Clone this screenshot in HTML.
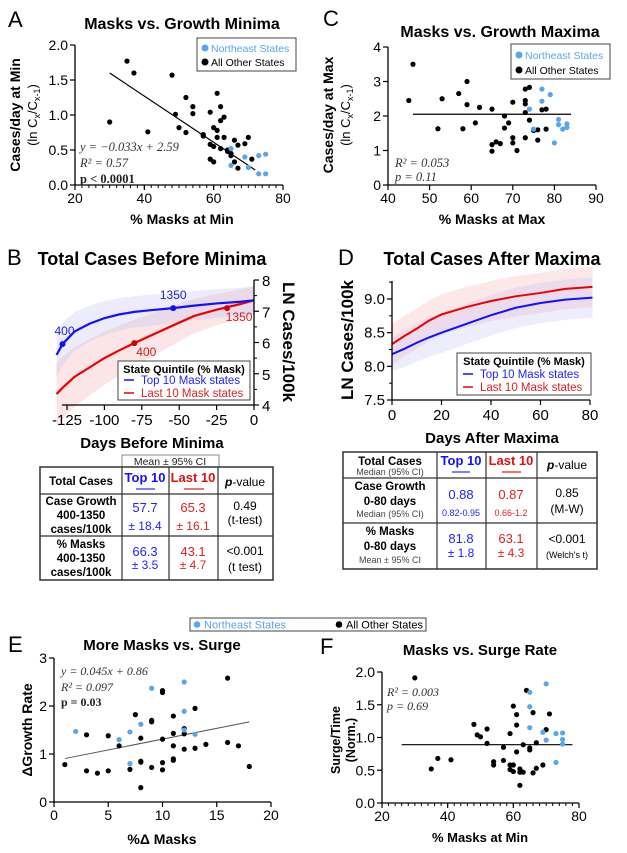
<!DOCTYPE html>
<html><head><meta charset="utf-8"><style>
html,body{margin:0;padding:0;background:#fff;}
svg{display:block;font-family:"Liberation Sans",Arial,sans-serif;}
</style></head><body>
<svg id="fig" width="627" height="853" viewBox="0 0 627 853"></svg>
<script>
// ---------- DATA ----------
const aBlackX=[30,35,37,41,48,49,50,52,52,54,54,57,57,59,59,59,60,60,60,61,61,61,62,62,62,63,63,64,65,65,66,66,67,67,69,70,71,64];
const aBlackY=[0.9,1.77,1.6,0.76,1.57,1.01,0.82,1.25,0.75,1.12,1.02,0.72,0.7,1.04,0.58,0.37,0.82,0.55,0.33,1.31,0.78,0.68,1.12,0.92,0.52,0.97,0.68,0.5,0.45,0.42,0.64,0.33,0.57,0.24,0.59,0.68,0.37,0.48];
const aBlueX=[65,65,69,70,73,73,75,75];
const aBlueY=[0.52,0.28,0.4,0.25,0.42,0.16,0.44,0.16];
const aFit=[-0.033,2.59];
const cBlackX=[45,46,52,53,57,58,59,59,61,62,65,65,65,66,67,68,68,69,70,70,70,71,73,73,73,73,73,74,74,75,76,76,77,78,78];
const cBlackY=[2.45,3.5,1.63,2.5,2.65,1.63,3.0,2.33,1.8,2.25,2.2,1.17,0.98,1.25,1.2,2.0,1.65,1.8,2.4,1.37,1.22,1.0,2.78,2.45,2.35,2.1,1.37,2.83,1.88,1.58,1.6,1.3,2.18,2.2,1.62];
const cBlueX=[74,75,77,77,79,80,81,81,82,83,83];
const cBlueY=[2.2,1.62,2.78,2.43,2.62,1.22,1.9,1.75,1.62,1.77,1.67];
const cMean=[2.05];
const eBlackX=[1,3,3,4,5,5,6,7,7.5,8,8,8,8,9,9,9,10,10,10,10,10,11,11,11,11,11,12,12,12,13,13,14,16,16,17,18];
const eBlackY=[0.78,1.4,0.65,0.6,1.38,0.65,1.17,0.68,1.82,1.33,0.85,0.83,0.3,1.7,1.67,0.72,2.32,2.28,1.31,0.82,0.67,1.79,1.43,1.17,0.9,0.87,1.53,1.42,1.1,1.95,1.12,1.2,2.58,1.24,1.17,0.74];
const eBlueX=[2,6,7,7,8,9,12,12,12,13];
const eBlueY=[1.47,1.3,1.46,0.8,1.62,2.37,2.5,1.89,1.5,1.41];
const eFit=[0.045,0.86];
const fBlackX=[30,35,37,41,48,49,50,52,52,54,54,57,57,59,59,59,60,60,60,61,61,61,62,62,62,63,63,64,65,65,66,66,67,67,69,70,71];
const fBlackY=[1.91,0.52,0.68,0.66,1.2,1.04,1.01,1.13,0.91,0.63,0.58,0.85,0.65,1.06,0.58,0.51,1.48,0.58,0.48,1.35,1.19,0.78,0.52,0.47,0.27,0.89,0.47,1.72,0.84,0.81,1.38,0.46,0.92,0.53,0.58,1.12,1.36];
const fBlueX=[65,65,65,69,70,70,73,73,75,75,75];
const fBlueY=[1.69,1.47,1.15,1.08,1.82,0.96,1.06,0.62,1.07,0.97,0.9];
const fMean=[0.89];
const bDays=[-132,-128,-120,-110,-100,-90,-80,-70,-54,-40,-25,-10,0];
const bTop=[5.6,5.95,6.35,6.6,6.78,6.9,6.98,7.03,7.1,7.18,7.25,7.3,7.35];
const bLast=[4.35,4.55,4.9,5.2,5.5,5.75,5.98,6.2,6.55,6.85,7.05,7.22,7.35];
const bTopErr=[0.7,0.68,0.62,0.58,0.55,0.52,0.5,0.5,0.48,0.47,0.46,0.45,0.45];
const bLastErr=[1.0,1.0,0.95,0.9,0.85,0.8,0.75,0.7,0.62,0.55,0.5,0.47,0.45];
const bTopMarks=[[-128,5.95,'400'],[-54,7.1,'1350']];
const bLastMarks=[[-80,5.98,'400'],[-18,7.1,'1350']];
const dDays=[0,5,10,15,20,30,40,50,60,70,81];
const dTop=[8.18,8.26,8.35,8.43,8.5,8.63,8.76,8.87,8.94,8.99,9.02];
const dLast=[8.33,8.45,8.56,8.68,8.77,8.88,8.97,9.04,9.09,9.15,9.18];
const dTopErr=[0.25,0.27,0.28,0.29,0.3,0.3,0.3,0.3,0.3,0.3,0.3];
const dLastErr=[0.3,0.3,0.3,0.3,0.3,0.3,0.3,0.3,0.3,0.3,0.3];

const NS='http://www.w3.org/2000/svg';
const svg=document.getElementById('fig');
const BLUE='#5aa5ec', BLK='#000';
function mk(tag,attrs,parent,text){const e=document.createElementNS(NS,tag);for(const k in attrs)e.setAttribute(k,attrs[k]);if(text!=null)e.textContent=text;(parent||svg).appendChild(e);return e;}
function lin(d0,d1,r0,r1){return v=>r0+(v-d0)*(r1-r0)/(d1-d0);}
function txt(x,y,s,size,opts,name){opts=opts||{};const t=mk('text',Object.assign({x:x,y:y,'font-size':size,'text-anchor':opts.a||'middle',fill:opts.c||'#000'},opts.weight?{'font-weight':opts.weight}:{},opts.family?{'font-family':opts.family}:{},opts.style?{'font-style':opts.style}:{},opts.tr?{transform:opts.tr}:{}),opts.p||svg,s);
 
 
 return t;}
function line(x1,y1,x2,y2,w,c,name){const l=mk('line',{x1:x1,y1:y1,x2:x2,y2:y2,stroke:c||'#000','stroke-width':w||1});
 
 
 return l;}
function dots(xs,ys,sx,sy,color,name){const g=mk('g',{});
 
 
 for(let i=0;i<xs.length;i++){const c=mk('circle',{cx:sx(xs[i]),cy:sy(ys[i]),r:2.6,fill:color},g);
  
  }}
function axesXY(x0,y0,x1,y1,sx,sy,xt,yt,xlabs,ylabs,xminor,yminor,pre){
 line(x0,y1,x0,y0,1.3,'#000',pre+'-y-axis');line(x0,y0,x1,y0,1.3,'#000',pre+'-x-axis');
 xt.forEach((v,i)=>{line(sx(v),y0,sx(v),y0+5,1.2);txt(sx(v),y0+18,xlabs[i],14,{},pre+'-x-tick-label');});
 yt.forEach((v,i)=>{line(x0-5,sy(v),x0,sy(v),1.2);txt(x0-7,sy(v)+5,ylabs[i],14,{a:'end'},pre+'-y-tick-label');});
 (xminor||[]).forEach(v=>line(sx(v),y0,sx(v),y0+3,1));
 (yminor||[]).forEach(v=>line(x0-3,sy(v),x0,sy(v),1));}
function legendBox(x,y,w,h,name){const r=mk('rect',{x:x,y:y,width:w,height:h,fill:'#fff',stroke:'#444','stroke-width':1});
 
 
 return r;}
function range(a,b,s){const r=[];for(let v=a;v<=b+1e-9;v+=s)r.push(+v.toFixed(3));return r;}

// ---------- PANEL A ----------
txt(8,27,'A',22,{a:'start'},'panel-label-a');
txt(182,29,'Masks vs. Growth Minima',16,{weight:'bold'},'panel-a-title');
{const sx=lin(20,80,75,283),sy=lin(0,2,185,45);
 axesXY(75,185,283,45,sx,sy,[20,40,60,80],[0,0.5,1,1.5,2],['20','40','60','80'],['0.0','0.5','1.0','1.5','2.0'],range(22,78,2),null,'a');
 line(sx(30),sy(aFit[0]*30+aFit[1]),sx(72),sy(aFit[0]*72+aFit[1]),1.2,'#000','a-fit-line');
 dots(aBlackX,aBlackY,sx,sy,BLK,'a-other-states');dots(aBlueX,aBlueY,sx,sy,BLUE,'a-northeast-states');
 txt(80,151,'y = −0.033x + 2.59',12.5,{a:'start',family:'Liberation Serif',style:'italic',c:'#333'},'a-equation');
 txt(80,167,'R² = 0.57',12.5,{a:'start',family:'Liberation Serif',style:'italic',c:'#333'},'a-r2');
 txt(80,183,'p < 0.0001',12.5,{a:'start',family:'Liberation Serif',weight:'bold',c:'#222'},'a-pvalue');
 legendBox(197,38,99,33,'a-legend');
 mk('circle',{cx:205,cy:48,r:3.5,fill:BLUE});txt(211,52,'Northeast States',10.5,{a:'start',c:BLUE},'a-legend-northeast');
 mk('circle',{cx:205,cy:62,r:3.5,fill:BLK});txt(211,66,'All Other States',10.5,{a:'start'},'a-legend-other');
 txt(182,224,'% Masks at Min',14,{weight:'bold'},'a-x-axis-title');
 txt(20,115,'Cases/day at Min',14,{weight:'bold',tr:'rotate(-90 20 115)'},'a-y-axis-title');
 const g2=txt(37,115,'',13,{tr:'rotate(-90 37 115)'},'a-y-axis-subtitle');
 g2.innerHTML='(ln C<tspan font-size="9" dy="3">x</tspan><tspan dy="-3">/C</tspan><tspan font-size="9" dy="3">x-1</tspan><tspan dy="-3">)</tspan>';
}
// ---------- PANEL C ----------
txt(323,26,'C',22,{a:'start'},'panel-label-c');
txt(500,37,'Masks vs. Growth Maxima',16,{weight:'bold'},'panel-c-title');
{const sx=lin(40,90,388,596),sy=lin(0,4,185,47);
 axesXY(388,185,596,47,sx,sy,[40,50,60,70,80,90],[0,1,2,3,4],['40','50','60','70','80','90'],['0','1','2','3','4'],null,null,'c');
 line(sx(46),sy(cMean[0]),sx(84),sy(cMean[0]),1.2,'#000','c-mean-line');
 dots(cBlackX,cBlackY,sx,sy,BLK,'c-other-states');dots(cBlueX,cBlueY,sx,sy,BLUE,'c-northeast-states');
 txt(395,167,'R² = 0.053',12.5,{a:'start',family:'Liberation Serif',style:'italic',c:'#333'},'c-r2');
 txt(395,181,'p = 0.11',12.5,{a:'start',family:'Liberation Serif',style:'italic',c:'#333'},'c-pvalue');
 legendBox(511,44,99,35,'c-legend');
 mk('circle',{cx:519,cy:55,r:3.5,fill:BLUE});txt(525,59,'Northeast States',10.5,{a:'start',c:BLUE},'c-legend-northeast');
 mk('circle',{cx:519,cy:70,r:3.5,fill:BLK});txt(525,74,'All Other States',10.5,{a:'start'},'c-legend-other');
 txt(492,224,'% Masks at Max',14,{weight:'bold'},'c-x-axis-title');
 txt(333,115,'Cases/day at Max',14,{weight:'bold',tr:'rotate(-90 333 115)'},'c-y-axis-title');
 const g2=txt(350,115,'',13,{tr:'rotate(-90 350 115)'},'c-y-axis-subtitle');
 g2.innerHTML='(ln C<tspan font-size="9" dy="3">x</tspan><tspan dy="-3">/C</tspan><tspan font-size="9" dy="3">x-1</tspan><tspan dy="-3">)</tspan>';
}
// ---------- PANEL B ----------
txt(7,265,'B',22,{a:'start'},'panel-label-b');
txt(152,265,'Total Cases Before Minima',18,{weight:'bold'},'panel-b-title');
{const sx=lin(-125,0,67,254),sy=lin(4,8,405,280);
 function band(xs,ys,er,color,name){let pts=xs.map((d,i)=>sx(d)+','+sy(ys[i]+er[i]));pts=pts.concat(xs.map((d,i)=>sx(d)+','+sy(ys[i]-er[i])).reverse());
  const p=mk('polygon',{points:pts.join(' '),fill:color,opacity:0.3});
  
  }
 function curve(xs,ys,color,name){const p=mk('polyline',{points:xs.map((d,i)=>sx(d)+','+sy(ys[i])).join(' '),fill:'none',stroke:color,'stroke-width':2.2});
  
  }
 band(bDays,bLast,bLastErr,'#f3a8b0','b-last10-ci-band');band(bDays,bTop,bTopErr,'#c0c0f0','b-top10-ci-band');
 curve(bDays,bLast,'#e00','b-last10-line');curve(bDays,bTop,'#11f','b-top10-line');
 bTopMarks.forEach(m=>{mk('circle',{cx:sx(m[0]),cy:sy(m[1]),r:3,fill:'#11f'});txt(sx(m[0])+(m[2]=='400'?2:0),sy(m[1])-9,m[2],12,{c:'#22c'},'b-top10-marker-label');});
 bLastMarks.forEach(m=>{mk('circle',{cx:sx(m[0]),cy:sy(m[1]),r:3,fill:'#c00'});txt(sx(m[0])+12,sy(m[1])+13,m[2],12,{c:'#c22'},'b-last10-marker-label');});
 line(62,405,254,405,1.3,'#000','b-x-axis');line(254,280,254,405,1.3,'#000','b-y-axis');
 [-125,-100,-75,-50,-25,0].forEach(v=>{line(sx(v),405,sx(v),410,1.2);txt(sx(v),425,v==0?'0':String(v),15,{},'b-x-tick-label');});
 [4,5,6,7,8].forEach(v=>{line(254,sy(v),259,sy(v),1.2);txt(262,sy(v)+6,String(v),15,{a:'start'},'b-y-tick-label');});
 [4.5,5.5,6.5,7.5].forEach(v=>line(254,sy(v),257,sy(v),1));
 txt(152,448,'Days Before Minima',15,{weight:'bold'},'b-x-axis-title');
 txt(283,342,'LN Cases/100k',17,{weight:'bold',tr:'rotate(90 283 342)'},'b-y-axis-title');
 legendBox(118,361,132,39,'b-legend');
 txt(184,373,'State Quintile (% Mask)',11,{weight:'bold'},'b-legend-title');
 line(124,380,134,380,1.5,'#11f');txt(141,384,'Top 10 Mask states',11.5,{a:'start',c:'#22f'},'b-legend-top10');
 line(124,393,134,393,1.5,'#e00');txt(141,397,'Last 10 Mask states',11.5,{a:'start',c:'#d22'},'b-legend-last10');
}
// ---------- PANEL D ----------
txt(338,265,'D',22,{a:'start'},'panel-label-d');
txt(492,265,'Total Cases After Maxima',18,{weight:'bold'},'panel-d-title');
{const sx=lin(0,80,392,590),sy=lin(7.5,9,400,299);
 function band(xs,ys,er,color,name){let pts=xs.map((d,i)=>sx(d)+','+sy(ys[i]+er[i]));pts=pts.concat(xs.map((d,i)=>sx(d)+','+sy(ys[i]-er[i])).reverse());
  const p=mk('polygon',{points:pts.join(' '),fill:color,opacity:0.28});
  
  }
 function curve(xs,ys,color,name){const p=mk('polyline',{points:xs.map((d,i)=>sx(d)+','+sy(ys[i])).join(' '),fill:'none',stroke:color,'stroke-width':2});
  
  }
 band(dDays,dLast,dLastErr,'#f3a8b0','d-last10-ci-band');band(dDays,dTop,dTopErr,'#c0c0f0','d-top10-ci-band');
 curve(dDays,dLast,'#e00','d-last10-line');curve(dDays,dTop,'#11f','d-top10-line');
 line(392,281,392,400,1.3,'#000','d-y-axis');line(392,400,590,400,1.3,'#000','d-x-axis');
 [0,20,40,60,80].forEach(v=>{line(sx(v),400,sx(v),405,1.2);txt(sx(v),420,String(v),15,{},'d-x-tick-label');});
 [7.5,8,8.5,9].forEach(v=>{line(387,sy(v),392,sy(v),1.2);txt(385,sy(v)+5,v.toFixed(1),15,{a:'end'},'d-y-tick-label');});
 [7.75,8.25,8.75,9.25].forEach(v=>line(389,sy(v),392,sy(v),1));
 txt(492,443,'Days After Maxima',15,{weight:'bold'},'d-x-axis-title');
 txt(353,340,'LN Cases/100k',17,{weight:'bold',tr:'rotate(-90 353 340)'},'d-y-axis-title');
 legendBox(457,353,134,42,'d-legend');
 txt(524,365,'State Quintile (% Mask)',11,{weight:'bold'},'d-legend-title');
 line(463,374,473,374,1.5,'#11f');txt(480,378,'Top 10 Mask states',11.5,{a:'start',c:'#22f'},'d-legend-top10');
 line(463,387,473,387,1.5,'#e00');txt(480,391,'Last 10 Mask states',11.5,{a:'start',c:'#d22'},'d-legend-last10');
}
// ---------- TABLE B ----------
{const g=mk('g',{});
 
 
 mk('rect',{x:122,y:455,width:97,height:12,fill:'none',stroke:'#888','stroke-width':1},g);
 txt(170,465,'Mean ± 95% CI',10.5,{c:'#222'},'table-b-header-note');
 mk('rect',{x:40,y:467,width:233,height:113,fill:'none',stroke:'#333','stroke-width':1.5},g);
 [122,169,218].forEach(x=>mk('line',{x1:x,y1:467,x2:x,y2:580,stroke:'#333','stroke-width':1.2},g));
 [494,536].forEach(y=>mk('line',{x1:40,y1:y,x2:273,y2:y,stroke:'#333','stroke-width':1.2},g));
 txt(81,485,'Total Cases',11.5,{weight:'bold'},'table-b-col-header');
 txt(145,482,'Top 10',13,{weight:'bold',c:'#11f'},'table-b-top10-header');line(136,489,155,489,1.5,'#55f');
 txt(193,482,'Last 10',13,{weight:'bold',c:'#d11'},'table-b-last10-header');line(184,489,204,489,1.5,'#e44');
 const pv=txt(245,486,'',12,{},'table-b-pvalue-header');pv.innerHTML='<tspan font-style="italic" font-weight="bold">p</tspan>-value';
 ['Case Growth','400-1350','cases/100k'].forEach((s,i)=>txt(81,505+i*14,s,11.5,{weight:'bold'},'table-b-row-label'));
 txt(145,512,'57.7',13,{c:'#22f'},'table-b-cell');txt(145,530,'± 18.4',12,{c:'#22f'},'table-b-cell');
 txt(193,512,'65.3',13,{c:'#d22'},'table-b-cell');txt(193,530,'± 16.1',12,{c:'#d22'},'table-b-cell');
 txt(245,510,'0.49',12,{},'table-b-cell');txt(245,524,'(t-test)',12,{},'table-b-cell');
 ['% Masks','400-1350','cases/100k'].forEach((s,i)=>txt(81,548+i*14,s,11.5,{weight:'bold'},'table-b-row-label'));
 txt(145,556,'66.3',13,{c:'#22f'},'table-b-cell');txt(145,569,'± 3.5',12,{c:'#22f'},'table-b-cell');
 txt(193,556,'43.1',13,{c:'#d22'},'table-b-cell');txt(193,569,'± 4.7',12,{c:'#d22'},'table-b-cell');
 txt(245,555,'<0.001',12,{},'table-b-cell');txt(245,571,'(t test)',12,{},'table-b-cell');
}
// ---------- TABLE D ----------
{const g=mk('g',{});
 
 
 mk('rect',{x:343,y:452,width:254,height:117,fill:'none',stroke:'#333','stroke-width':1.5},g);
 [437,486,537].forEach(x=>mk('line',{x1:x,y1:452,x2:x,y2:569,stroke:'#333','stroke-width':1.2},g));
 [478,523].forEach(y=>mk('line',{x1:343,y1:y,x2:597,y2:y,stroke:'#333','stroke-width':1.2},g));
 txt(390,465,'Total Cases',11.5,{weight:'bold'},'table-d-col-header');txt(390,475,'Median (95% CI)',9,{c:'#444'},'table-d-col-note');
 txt(461,465,'Top 10',13,{weight:'bold',c:'#11f'},'table-d-top10-header');line(452,472,470,472,1.5,'#55f');
 txt(511,465,'Last 10',13,{weight:'bold',c:'#d11'},'table-d-last10-header');line(502,472,521,472,1.5,'#e44');
 const pv=txt(567,469,'',12,{},'table-d-pvalue-header');pv.innerHTML='<tspan font-style="italic" font-weight="bold">p</tspan>-value';
 txt(390,490,'Case Growth',11.5,{weight:'bold'},'table-d-row-label');txt(390,505,'0-80 days',11.5,{weight:'bold'},'table-d-row-label');txt(390,517,'Median (95% CI)',9,{c:'#444'},'table-d-row-note');
 txt(461,499,'0.88',13,{c:'#22f'},'table-d-cell');txt(461,516,'0.82-0.95',9,{c:'#22f'},'table-d-cell');
 txt(511,499,'0.87',13,{c:'#d22'},'table-d-cell');txt(511,516,'0.66-1.2',9,{c:'#d22'},'table-d-cell');
 txt(567,497,'0.85',12,{},'table-d-cell');txt(567,513,'(M-W)',12,{},'table-d-cell');
 txt(390,535,'% Masks',11.5,{weight:'bold'},'table-d-row-label');txt(390,550,'0-80 days',11.5,{weight:'bold'},'table-d-row-label');txt(390,563,'Mean ± 95% CI',9,{c:'#444'},'table-d-row-note');
 txt(461,543,'81.8',13,{c:'#22f'},'table-d-cell');txt(461,557,'± 1.8',12,{c:'#22f'},'table-d-cell');
 txt(511,543,'63.1',13,{c:'#d22'},'table-d-cell');txt(511,557,'± 4.3',12,{c:'#d22'},'table-d-cell');
 txt(567,543,'<0.001',12,{},'table-d-cell');txt(567,558,"(Welch's t)",9,{},'table-d-cell');
}
// ---------- SHARED LEGEND E/F ----------
legendBox(190,618,236,13,'ef-legend');
mk('circle',{cx:197,cy:624.5,r:3.3,fill:BLUE});txt(204,628.5,'Northeast States',11,{a:'start',c:BLUE},'ef-legend-northeast');
mk('circle',{cx:339,cy:624.5,r:3.3,fill:BLK});txt(346,628.5,'All Other States',11,{a:'start'},'ef-legend-other');
// ---------- PANEL E ----------
txt(8,652,'E',22,{a:'start'},'panel-label-e');
txt(162,650,'More Masks vs. Surge',15,{weight:'bold'},'panel-e-title');
{const sx=lin(0,20,54,271),sy=lin(0,3,802,658);
 axesXY(54,802,271,658,sx,sy,[0,5,10,15,20],[0,1,2,3],['0','5','10','15','20'],['0','1','2','3'],null,null,'e');
 line(sx(1),sy(eFit[0]*1+eFit[1]),sx(18),sy(eFit[0]*18+eFit[1]),1,'#555','e-fit-line');
 dots(eBlackX,eBlackY,sx,sy,BLK,'e-other-states');dots(eBlueX,eBlueY,sx,sy,BLUE,'e-northeast-states');
 txt(61,675,'y = 0.045x + 0.86',12,{a:'start',family:'Liberation Serif',style:'italic',c:'#333'},'e-equation');
 txt(61,691,'R² = 0.097',12,{a:'start',family:'Liberation Serif',style:'italic',c:'#333'},'e-r2');
 txt(61,706,'p = 0.03',12,{a:'start',family:'Liberation Serif',weight:'bold',c:'#222'},'e-pvalue');
 txt(162,844,'%Δ Masks',14,{weight:'bold'},'e-x-axis-title');
 txt(32,730,'ΔGrowth Rate',14,{weight:'bold',tr:'rotate(-90 32 730)'},'e-y-axis-title');
}
// ---------- PANEL F ----------
txt(320,654,'F',22,{a:'start'},'panel-label-f');
txt(480,655,'Masks vs. Surge Rate',15,{weight:'bold'},'panel-f-title');
{const sx=lin(20,80,382,579),sy=lin(0,2,803,672);
 axesXY(382,803,579,672,sx,sy,[20,40,60,80],[0,0.5,1,1.5,2],['20','40','60','80'],['0.0','0.5','1.0','1.5','2.0'],range(22,78,2),null,'f');
 line(sx(26),sy(fMean[0]),sx(78),sy(fMean[0]),1.2,'#000','f-mean-line');
 dots(fBlackX,fBlackY,sx,sy,BLK,'f-other-states');dots(fBlueX,fBlueY,sx,sy,BLUE,'f-northeast-states');
 txt(387,696,'R² = 0.003',12,{a:'start',family:'Liberation Serif',style:'italic',c:'#333'},'f-r2');
 txt(387,710,'p = 0.69',12,{a:'start',family:'Liberation Serif',style:'italic',c:'#333'},'f-pvalue');
 txt(480,842,'% Masks at Min',13,{weight:'bold'},'f-x-axis-title');
 txt(340,740,'Surge/Time',12.5,{weight:'bold',tr:'rotate(-90 340 740)'},'f-y-axis-title');
 txt(355,740,'(Norm.)',12.5,{weight:'bold',tr:'rotate(-90 355 740)'},'f-y-axis-subtitle');
}
</script>
</body></html>
